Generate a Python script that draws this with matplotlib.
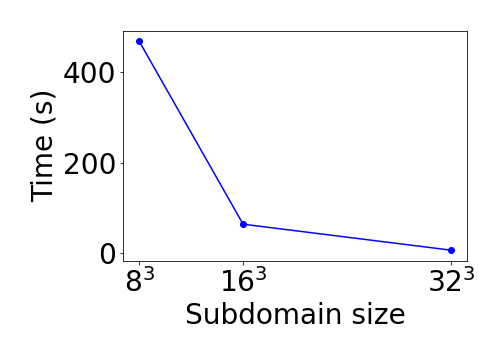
import matplotlib
matplotlib.use("Agg")
import matplotlib.pyplot as plt

sizes = [8, 16, 32]
times = [468.5, 64, 6.6]
tick_labels = [r"$8^3$", r"$16^3$", r"$32^3$"]

plt.rcParams['font.size'] = 28
fig = plt.figure(figsize=(7, 5), dpi=72)
ax = fig.add_axes([0.245, 0.276, 0.681, 0.639])
ax.plot(sizes, times, marker='o', color='blue', markersize=6)
ax.set_xticks(sizes)
ax.set_xticklabels(tick_labels)
ax.set_yticks([0, 200, 400])
ax.set_xlabel("Subdomain size")
ax.set_ylabel("Time (s)")
fig.savefig("out.png", dpi=72)
